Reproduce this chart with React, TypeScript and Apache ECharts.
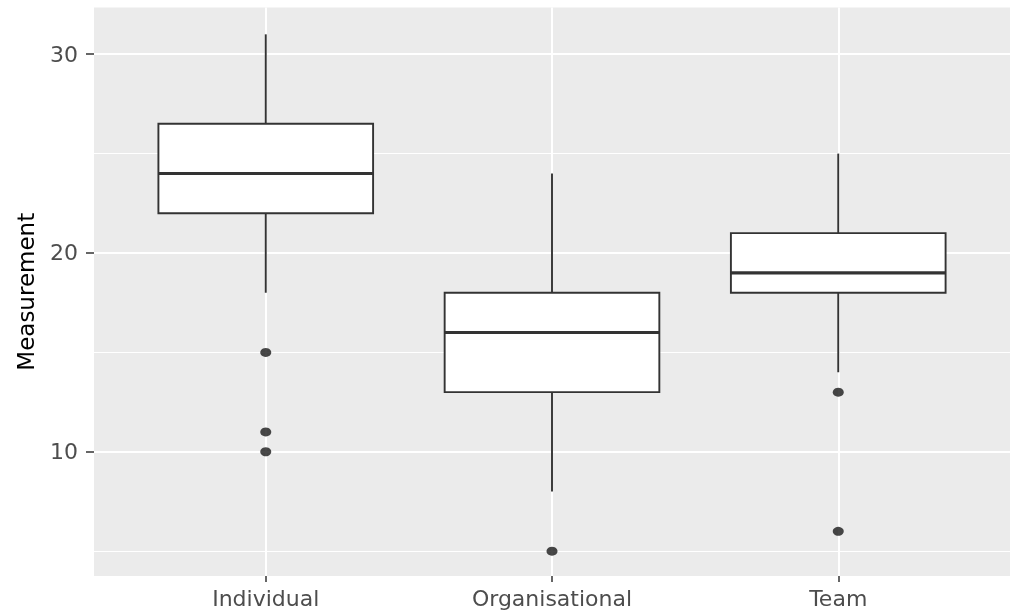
import React, { useEffect, useRef } from "react";
import * as echarts from "echarts";

const categories = ["Individual", "Organisational", "Team"];
const lowerWhisker = [18, 8, 14];
const q1 = [22, 13, 18];
const median = [24, 16, 19];
const q3 = [26.5, 18, 21];
const upperWhisker = [31, 24, 25];

const outlierCategory = [0, 0, 0, 1, 2, 2];
const outlierValue = [15, 11, 10, 5, 13, 6];

const yMajorTicks = [10, 20, 30];
const yMinorLines = [5, 15, 25];

const FONT = "DejaVu Sans";

export default function App() {
  const ref = useRef<HTMLDivElement>(null);

  useEffect(() => {
    if (!ref.current) return;
    const chart = echarts.init(ref.current, undefined, { renderer: "svg" });

    const boxData = categories.map((_, i) => [
      i + 1,
      lowerWhisker[i],
      q1[i],
      median[i],
      q3[i],
      upperWhisker[i],
    ]);
    const outlierData = outlierValue.map((v, i) => [outlierCategory[i] + 1, v]);

    const gridLineData: any[] = [
      ...yMajorTicks.map((v) => ({ yAxis: v, lineStyle: { width: 2 } })),
      ...yMinorLines.map((v) => ({ yAxis: v, lineStyle: { width: 1.2 } })),
      ...categories.map((_, i) => ({ xAxis: i + 1, lineStyle: { width: 2 } })),
    ];

    const option: any = {
      animation: false,
      grid: {
        left: 94,
        top: 7.5,
        width: 925,
        bottom: 39,
        show: true,
        backgroundColor: "#EBEBEB",
        borderWidth: 0,
      },
      xAxis: {
        type: "value",
        min: 0.4,
        max: 3.6,
        axisLine: { show: false },
        splitLine: { show: false },
        axisTick: {
          show: true,
          customValues: [1, 2, 3],
          length: 6,
          lineStyle: { color: "#333333", width: 1.5 },
        },
        axisLabel: {
          customValues: [1, 2, 3],
          formatter: (v: number) => categories[Math.round(v) - 1] ?? "",
          fontFamily: FONT,
          fontSize: 22,
          color: "#4D4D4D",
          margin: 11,
        },
      },
      yAxis: {
        type: "value",
        min: 3.75,
        max: 32.35,
        name: "Measurement",
        nameLocation: "middle",
        nameGap: 57,
        nameTextStyle: { fontFamily: FONT, fontSize: 23, color: "#000000" },
        axisLine: { show: false },
        splitLine: { show: false },
        axisTick: {
          show: true,
          customValues: yMajorTicks,
          length: 8,
          lineStyle: { color: "#333333", width: 1.5 },
        },
        axisLabel: {
          customValues: yMajorTicks,
          formatter: (v: number) => (v % 10 === 0 ? String(v) : ""),
          fontFamily: FONT,
          fontSize: 22,
          color: "#4D4D4D",
          margin: 16,
        },
      },
      series: [
        {
          type: "scatter",
          z: 1,
          data: [],
          silent: true,
          markLine: {
            z: 1,
            silent: true,
            symbol: ["none", "none"],
            label: { show: false },
            lineStyle: { color: "#FFFFFF", type: "solid", width: 2 },
            emphasis: { disabled: true },
            data: gridLineData,
          },
        },
        {
          type: "custom",
          z: 3,
          data: boxData,
          silent: true,
          renderItem: (params: any, api: any) => {
            const x = api.value(0);
            const lo = api.coord([x, api.value(1)]);
            const b1 = api.coord([x, api.value(2)]);
            const md = api.coord([x, api.value(3)]);
            const b3 = api.coord([x, api.value(4)]);
            const hi = api.coord([x, api.value(5)]);
            const half = api.size([0.75, 0])[0] / 2;
            const stroke = "#333333";
            return {
              type: "group",
              children: [
                {
                  type: "line",
                  shape: { x1: hi[0], y1: hi[1], x2: b3[0], y2: b3[1] },
                  style: { stroke, lineWidth: 1.9 },
                },
                {
                  type: "line",
                  shape: { x1: b1[0], y1: b1[1], x2: lo[0], y2: lo[1] },
                  style: { stroke, lineWidth: 1.9 },
                },
                {
                  type: "rect",
                  shape: {
                    x: b3[0] - half,
                    y: b3[1],
                    width: half * 2,
                    height: b1[1] - b3[1],
                  },
                  style: { fill: "#FFFFFF", stroke, lineWidth: 1.9 },
                },
                {
                  type: "line",
                  shape: { x1: md[0] - half, y1: md[1], x2: md[0] + half, y2: md[1] },
                  style: { stroke, lineWidth: 3.2 },
                },
              ],
            };
          },
        },
        {
          type: "scatter",
          z: 4,
          silent: true,
          data: outlierData,
          symbol: "circle",
          symbolSize: [11, 9],
          itemStyle: { color: "#1A1A1A" },
        },
      ],
    };

    chart.setOption(option);
    return () => chart.dispose();
  }, []);

  return (
    <div
      ref={ref}
      style={{ position: "fixed", left: 0, top: 0, width: 1010, height: 615 }}
    />
  );
}
